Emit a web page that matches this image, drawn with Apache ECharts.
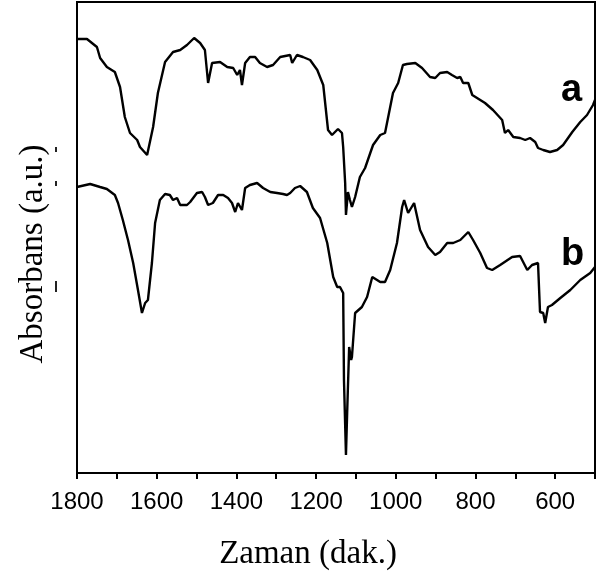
<!DOCTYPE html>
<html>
<head>
<meta charset="utf-8">
<script src="https://cdn.jsdelivr.net/npm/echarts@6/dist/echarts.min.js"></script>
<style>html,body{margin:0;padding:0;background:#fff}#c{width:600px;height:577px}</style>
</head>
<body>
<div id="c"></div>
<script>
// Wavenumber (x) and absorbance (arbitrary units)
const waveA = [1800,1775,1750,1742,1725,1705,1692,1680,1667,1649,1642,1624,1609,1597,1579,1559,1541,1524,1506,1491,1479,1471,1461,1441,1423,1408,1398,1391,1386,1378,1366,1353,1341,1323,1308,1290,1265,1260,1248,1233,1215,1197,1182,1170,1160,1145,1135,1132,1127,1125,1120,1115,1110,1102,1090,1077,1064,1057,1039,1027,1019,1007,994,982,972,951,934,914,901,889,871,859,846,838,831,818,808,796,776,756,733,726,718,705,688,675,663,650,643,630,613,595,580,557,537,520,505,500];
const absA = [434,434,426,415,406,401,386,356,340,333,326,318,346,380,411,421,423,428,435,430,423,390,410,411,406,405,398,403,388,410,416,416,410,406,408,416,418,410,418,416,413,403,388,343,338,344,340,326,290,258,281,273,266,276,296,305,320,328,338,340,356,380,390,408,409,410,405,396,395,400,401,398,395,396,390,390,378,375,370,363,353,340,343,336,335,333,335,331,325,323,321,323,328,341,351,358,368,373];
const waveB = [1800,1767,1742,1725,1705,1697,1685,1672,1659,1647,1637,1629,1622,1612,1604,1592,1579,1567,1559,1549,1541,1524,1516,1499,1486,1479,1471,1459,1446,1433,1421,1411,1403,1396,1386,1378,1366,1348,1333,1315,1298,1283,1273,1265,1253,1240,1223,1208,1190,1172,1157,1147,1140,1132,1130,1125,1122,1117,1112,1110,1102,1085,1072,1059,1039,1027,1014,997,984,979,969,954,939,919,901,889,871,856,838,818,806,788,771,758,738,708,688,670,658,643,638,630,625,618,608,587,562,537,512,500];
const absB = [286,289,286,284,278,270,253,233,210,183,160,170,173,210,250,273,279,278,273,275,268,268,271,280,281,276,268,270,278,278,275,270,261,270,263,285,288,290,285,281,280,279,278,280,285,287,281,265,255,230,196,186,186,180,93,18,60,126,113,116,160,166,176,196,191,191,203,230,266,273,260,270,243,226,218,221,230,230,233,241,233,220,205,203,208,216,217,203,208,210,161,160,150,166,168,175,183,193,200,206];
const tickLabels = [1800,1600,1400,1200,1000,800,600];
const curveNames = ['a','b'];

const chart = echarts.init(document.getElementById('c'), null, {renderer:'canvas'});
const zipPts = (xs, ys) => xs.map((x,i)=>[x, ys[i]]);
chart.setOption({
  animation:false,
  backgroundColor:'#fff',
  grid:{left:77, right:5, top:2, bottom:104, show:true, borderColor:'#000', borderWidth:2, backgroundColor:'transparent'},
  xAxis:{
    type:'value', min:500, max:1800, interval:100, inverse:true,
    axisLine:{show:true, onZero:false, lineStyle:{color:'#000', width:2}},
    axisTick:{show:true, inside:false, length:6, lineStyle:{color:'#000', width:2}},
    splitLine:{show:false},
    axisLabel:{
      show:true, margin:17, color:'#000', fontFamily:'Liberation Sans', fontSize:24,
      formatter:(v)=> tickLabels.indexOf(v) >= 0 ? String(v) : ''
    }
  },
  yAxis:{
    type:'value', min:0, max:471,
    axisLine:{show:true, onZero:false, lineStyle:{color:'#000', width:2}},
    axisTick:{show:false}, axisLabel:{show:false}, splitLine:{show:false}
  },
  series:[
    {name:curveNames[0], type:'line', data:zipPts(waveA, absA), showSymbol:false, symbol:'none', smooth:false,
     lineStyle:{color:'#000', width:2.4}},
    {name:curveNames[1], type:'line', data:zipPts(waveB, absB), showSymbol:false, symbol:'none', smooth:false,
     lineStyle:{color:'#000', width:2.4}}
  ],
  graphic:[
    {type:'text', style:{x:308, y:554, text:'Zaman (dak.)', font:'33px "Liberation Serif"', fill:'#000', textAlign:'center', textVerticalAlign:'middle'}},
    {type:'text', rotation:Math.PI/2, x:33, y:254, style:{x:0, y:0, text:'Absorbans (a.u.)', font:'33px "Liberation Serif"', fill:'#000', textAlign:'center', textVerticalAlign:'middle'}},
    {type:'text', style:{x:561, y:91, text:curveNames[0], font:'bold 38px "Liberation Sans"', fill:'#000', textAlign:'left', textVerticalAlign:'middle'}},
    {type:'text', style:{x:561, y:255, text:curveNames[1], font:'bold 38px "Liberation Sans"', fill:'#000', textAlign:'left', textVerticalAlign:'middle'}},
    {type:'rect', shape:{x:55, y:147, width:2, height:5}, style:{fill:'#222'}},
    {type:'rect', shape:{x:55, y:181, width:2, height:5}, style:{fill:'#222'}},
    {type:'rect', shape:{x:55, y:281, width:2, height:11}, style:{fill:'#222'}}
  ]
});
</script>
</body>
</html>
